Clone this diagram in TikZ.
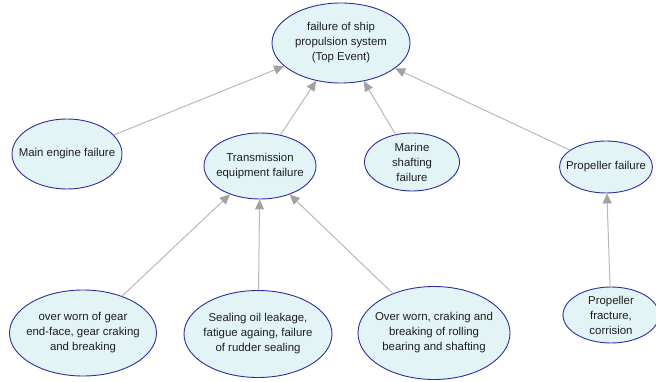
\documentclass[tikz,border=0pt]{standalone}
\usepackage{fontspec}
\setmainfont{Liberation Sans}
\usetikzlibrary{shapes.geometric,arrows.meta}

\definecolor{evfill}{HTML}{E3F4F6}
\definecolor{evdraw}{HTML}{2E2E9C}
\definecolor{linkline}{HTML}{B8B8B8}
\definecolor{linkhead}{HTML}{A2A2A2}
\definecolor{evtext}{HTML}{1E1E1E}

\tikzset{
  % negative inner sep keeps the ellipse at exactly its minimum size
  event/.style={ellipse, draw=evdraw, fill=evfill, line width=0.9pt,
    inner xsep=-30pt, inner ysep=-20pt, align=center, text=evtext,
    font=\fontsize{11.4}{15}\selectfont},
  link/.style={draw=linkline, line width=1pt,
    -{Triangle[length=10pt,width=9pt,color=linkhead]}}
}

\begin{document}
\begin{tikzpicture}[x=1pt,y=-1pt]
  \useasboundingbox (0,0) rectangle (656,382);

  % top event
  \node[event, minimum width=138pt, minimum height=80pt] (top) at (341,43)
    {failure of ship\\propulsion system\\(Top Event)};

  % intermediate events
  \node[event, minimum width=110pt, minimum height=70pt] (engine) at (67,154)
    {Main engine failure};
  \node[event, minimum width=112pt, minimum height=66pt] (trans) at (260,166)
    {Transmission\\equipment failure};
  \node[event, minimum width=95pt, minimum height=58pt] (shaft) at (412,162)
    {Marine\\shafting\\failure};
  \node[event, minimum width=93pt, minimum height=52pt] (prop) at (606,167)
    {Propeller failure};

  % basic events
  \node[event, minimum width=147pt, minimum height=86pt] (gear) at (83,333)
    {over worn of gear\\end-face, gear craking\\and breaking};
  \node[event, minimum width=148pt, minimum height=87pt] (seal) at (258,334)
    {Sealing oil leakage,\\fatigue againg, failure\\of rudder sealing};
  \node[event, minimum width=152pt, minimum height=93pt] (bear) at (434,333)
    {Over worn, craking and\\breaking of rolling\\bearing and shafting};
  \node[event, minimum width=96pt, minimum height=56pt] (frac) at (611,315)
    {Propeller\\fracture,\\corrision};

  % connectors, child to parent
  \draw[link] (engine) -- (top);
  \draw[link] (trans) -- (top);
  \draw[link] (shaft) -- (top);
  \draw[link] (prop) -- (top);
  \draw[link] (gear) -- (trans);
  \draw[link] (seal) -- (trans);
  \draw[link] (bear) -- (trans);
  \draw[link] (frac) -- (prop);
\end{tikzpicture}
\end{document}
